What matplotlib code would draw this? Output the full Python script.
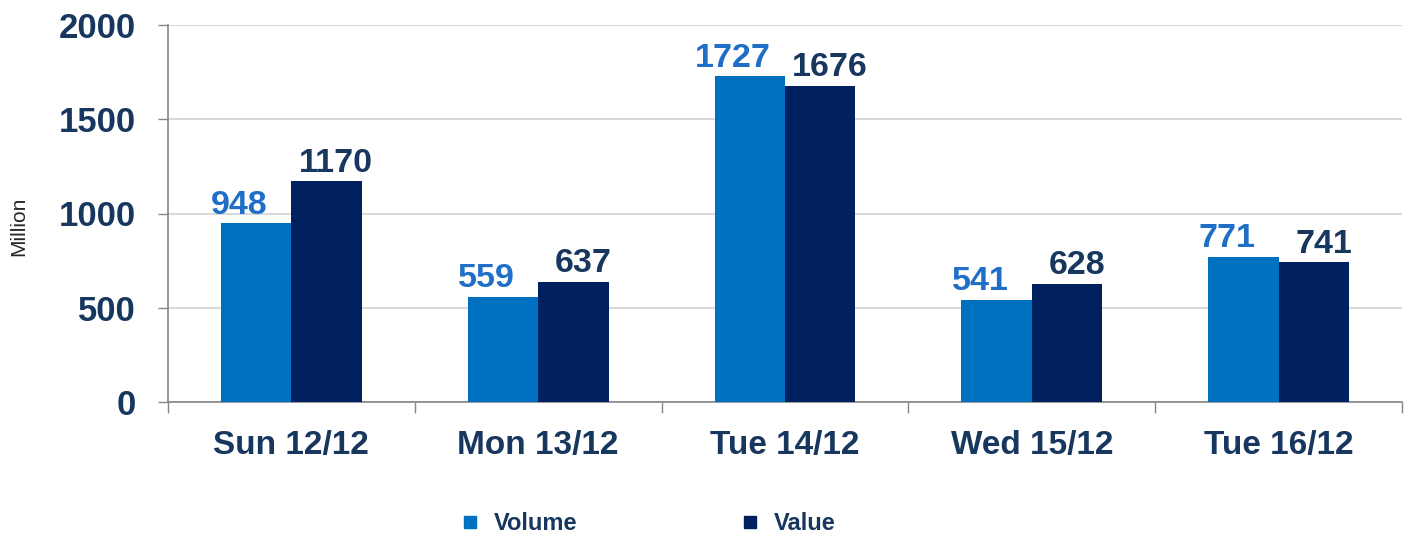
import matplotlib.pyplot as plt
import numpy as np
from matplotlib.lines import Line2D

categories = ['Sun 12/12', 'Mon 13/12', 'Tue 14/12', 'Wed 15/12', 'Tue 16/12']
volume = [948, 559, 1727, 541, 771]
value = [1170, 637, 1676, 628, 741]
yticks = [0, 500, 1000, 1500, 2000]

plt.rcParams['font.family'] = ['Liberation Sans', 'DejaVu Sans']

C_VOL = '#0070C0'
C_VAL = '#002060'
C_TXT = '#17375E'
C_VOL_LBL = '#1F6FC8'

fig = plt.figure(figsize=(14.08, 5.39), dpi=100)
ax = fig.add_axes([168/1408, 137/539, (1402-168)/1408, 377/539])

x = np.arange(len(categories))
w = 0.285
ax.bar(x - w/2, volume, w, color=C_VOL, zorder=3)
ax.bar(x + w/2, value, w, color=C_VAL, zorder=3)

for xi, v in zip(x, volume):
    ax.annotate(str(v), (xi - w/2, v), xytext=(-12, 7), textcoords='offset points',
                ha='center', va='baseline', fontsize=24.5, fontweight='bold', color=C_VOL_LBL)
for xi, v in zip(x, value):
    ax.annotate(str(v), (xi + w/2, v), xytext=(7, 7), textcoords='offset points',
                ha='center', va='baseline', fontsize=24.5, fontweight='bold', color=C_TXT)

ax.set_xlim(-0.5, len(categories) - 0.5)
ax.set_ylim(0, 2000)
ax.set_yticks(yticks)
ax.yaxis.grid(True, color='#D9D9D9', linewidth=1.5, zorder=0)
ax.set_axisbelow(True)

ax.set_xticks(np.arange(len(categories) + 1) - 0.5)
ax.set_xticklabels([])
ax.set_xticks(x, minor=True)
ax.set_xticklabels(categories, minor=True)
ax.tick_params(axis='x', which='major', length=8, width=1, color='#868686', direction='out')
ax.tick_params(axis='x', which='minor', length=0, pad=20, labelsize=24, labelcolor=C_TXT)
for lbl in ax.get_xticklabels(minor=True):
    lbl.set_fontweight('bold')

ax.tick_params(axis='y', length=7, width=1, color='#868686', pad=16, labelsize=25, labelcolor=C_TXT)
for lbl in ax.get_yticklabels():
    lbl.set_fontweight('bold')

for s in ['top', 'right']:
    ax.spines[s].set_visible(False)
ax.spines['left'].set_color('#868686')
ax.spines['bottom'].set_color('#868686')
ax.spines['left'].set_linewidth(1.2)
ax.spines['bottom'].set_linewidth(1.2)

fig.text(19/1408, 1 - 226/539, 'Million', rotation=90, ha='center', va='center',
         fontsize=15, color='#262626')

handles = [Line2D([], [], marker='s', linestyle='none', markersize=8, color=C_VOL),
           Line2D([], [], marker='s', linestyle='none', markersize=8, color=C_VAL)]
fig.legend(handles, ['Volume', 'Value'], loc='center', bbox_to_anchor=(648/1408, 15/539),
           ncol=2, frameon=False, handlelength=0.8, handletextpad=0.6, columnspacing=6.9,
           prop={'size': 17, 'weight': 'bold'}, labelcolor=C_TXT)

fig.savefig('out.png', dpi=100)
